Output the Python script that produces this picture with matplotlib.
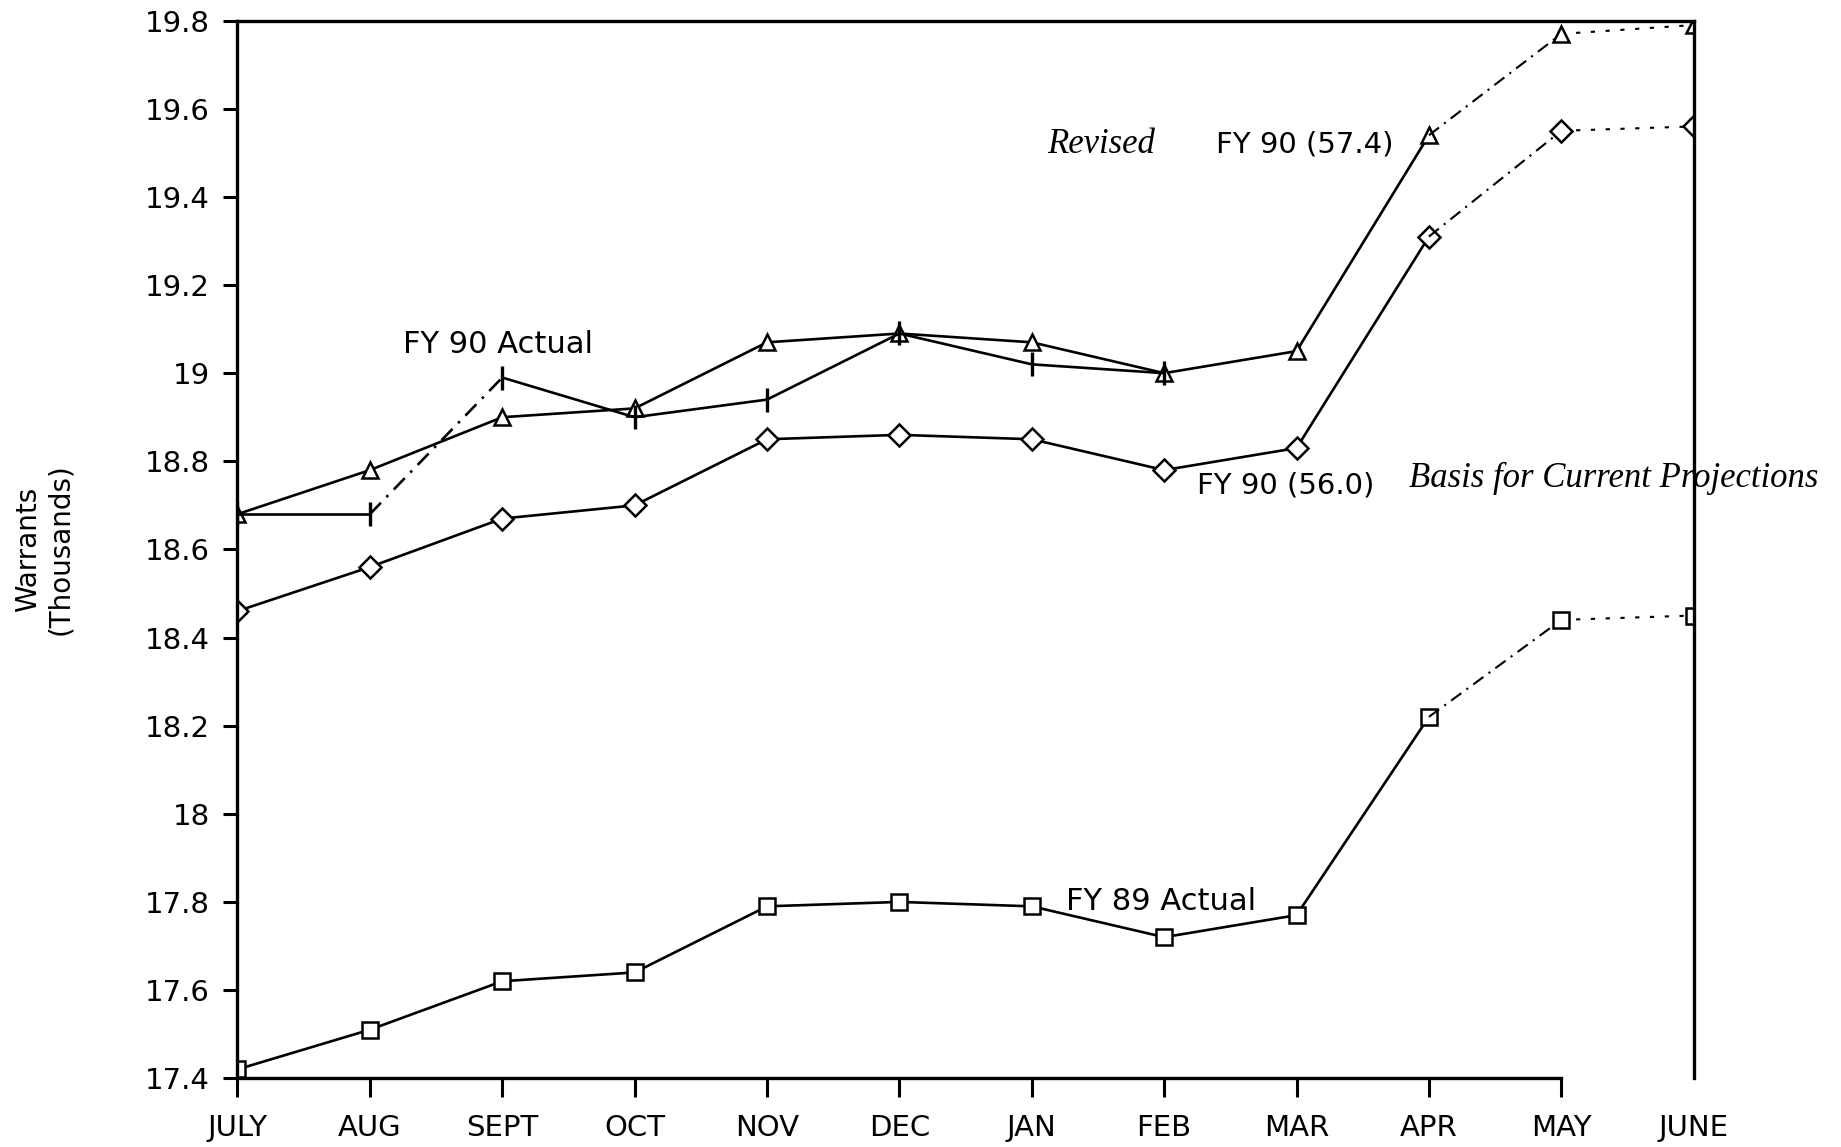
import matplotlib.pyplot as plt

# Months on the x axis (fiscal year July..June)
months = ["JULY", "AUG", "SEPT", "OCT", "NOV", "DEC", "JAN", "FEB", "MAR", "APR", "MAY", "JUNE"]

# Warrants in thousands
revised_fy90 = [18.68, 18.78, 18.90, 18.92, 19.07, 19.09, 19.07, 19.00, 19.05, 19.54, 19.77, 19.79]
fy90_actual = [18.68, 18.68, 18.99, 18.90, 18.94, 19.09, 19.02, 19.00]
fy90_basis = [18.46, 18.56, 18.67, 18.70, 18.85, 18.86, 18.85, 18.78, 18.83, 19.31, 19.55, 19.56]
fy89_actual = [17.42, 17.51, 17.62, 17.64, 17.79, 17.80, 17.79, 17.72, 17.77, 18.22, 18.44, 18.45]

y_ticks = [17.4, 17.6, 17.8, 18.0, 18.2, 18.4, 18.6, 18.8, 19.0, 19.2, 19.4, 19.6, 19.8]
y_tick_labels = ["17.4", "17.6", "17.8", "18", "18.2", "18.4", "18.6", "18.8", "19", "19.2", "19.4", "19.6", "19.8"]

x = list(range(len(months)))

fig = plt.figure(figsize=(18.41, 11.47), dpi=100)
ax = fig.add_axes([0.129, 0.060, 0.791, 0.922])

lw = 1.9
mk = dict(color="black", markerfacecolor="white", markeredgecolor="black", markersize=11, markeredgewidth=1.8)


def draw_series(vals, marker):
    # solid through APR, dash-dot APR-MAY, dotted MAY-JUNE
    ax.plot(x[:10], vals[:10], linestyle="-", linewidth=lw, marker=marker, **mk)
    ax.plot(x[9:11], vals[9:11], linestyle=(0, (6, 3, 1, 3)), linewidth=lw * 0.8, color="black")
    ax.plot(x[10:12], vals[10:12], linestyle=(0, (2, 5)), linewidth=lw * 0.8, color="black")
    ax.plot(x[10:12], vals[10:12], linestyle="none", marker=marker, **mk)


draw_series(revised_fy90, "^")
draw_series(fy90_basis, "D")
draw_series(fy89_actual, "s")

n = len(fy90_actual)
ax.plot(x[:2], fy90_actual[:2], linestyle="-", linewidth=lw, color="black")
ax.plot(x[1:3], fy90_actual[1:3], linestyle=(0, (6, 3, 1, 3)), linewidth=lw, color="black")
ax.plot(x[2:n], fy90_actual[2:n], linestyle="-", linewidth=lw, color="black")
ax.plot(x[:n], fy90_actual, linestyle="none", marker="|", markersize=17, markeredgewidth=2.4, color="black")

# labels on the lines
ax.text(1.25, 19.064, "FY 90 Actual", fontsize=22, family="DejaVu Sans", va="center")
ax.text(6.26, 17.80, "FY 89 Actual", fontsize=22, family="DejaVu Sans", va="center")
ax.text(6.12, 19.52, "Revised", fontsize=25, family="Liberation Serif", style="italic", va="center")
ax.text(7.39, 19.52, "FY 90 (57.4)", fontsize=21, family="DejaVu Sans", va="center")
ax.text(7.25, 18.745, "FY 90 (56.0)", fontsize=21, family="DejaVu Sans", va="center")
ax.text(8.85, 18.76, "Basis for Current Projections", fontsize=25, family="Liberation Serif",
        style="italic", va="center", clip_on=False)

ax.set_xlim(0, 11)
ax.set_ylim(17.4, 19.8)
ax.set_xticks(x)
ax.set_xticklabels(months, fontsize=21)
ax.set_yticks(y_ticks)
ax.set_yticklabels(y_tick_labels, fontsize=21)
ax.tick_params(axis="y", direction="out", length=10, width=2.2, pad=10)
ax.tick_params(axis="x", direction="out", length=14, width=2.2, pad=12)
ax.xaxis.get_major_ticks()[-1].tick1line.set_visible(False)

for side in ["left", "top", "right", "bottom"]:
    ax.spines[side].set_linewidth(2.4)
ax.spines["bottom"].set_bounds(0, 10)

ax.set_ylabel("Warrants\n(Thousands)", fontsize=20, linespacing=1.2)
ax.yaxis.set_label_coords(-0.112, 0.50)

fig.savefig("out.png", dpi=100)
